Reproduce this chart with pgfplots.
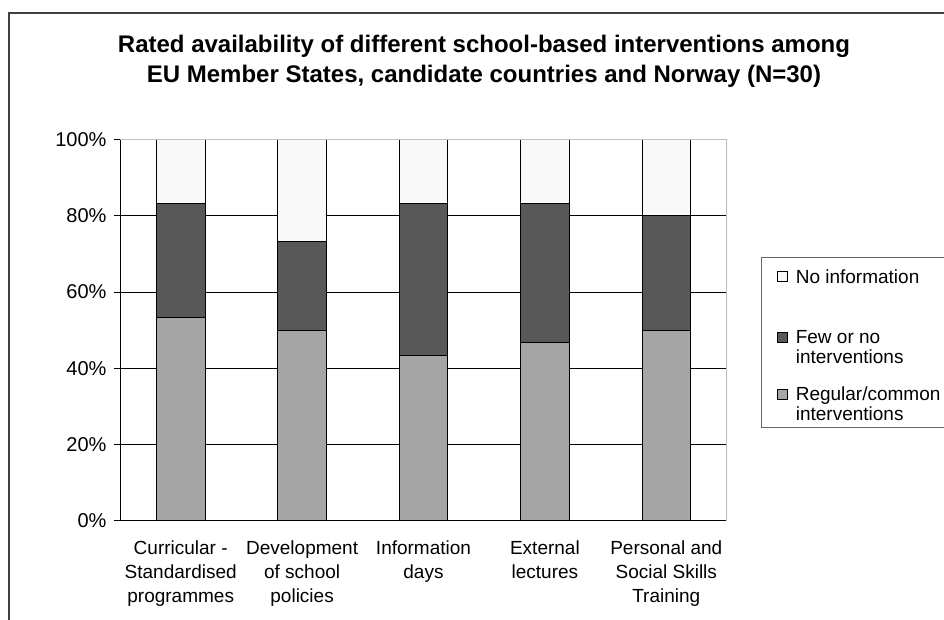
\documentclass[border=0pt]{standalone}
\usepackage{pgfplots}
\pgfplotsset{compat=1.18}
\usepackage{fontspec}
\setmainfont{Liberation Sans}

\definecolor{regular}{HTML}{A5A5A5}
\definecolor{fewno}{HTML}{585858}
\definecolor{noinfo}{HTML}{F9F9F9}

% shares (in %) of the 30 countries per intervention type
\pgfplotstableread{
x regular few noinfo
0 53.33 30.00 16.67
1 50.00 23.33 26.67
2 43.33 40.00 16.67
3 46.67 36.67 16.67
4 50.00 30.00 20.00
}\availability

\begin{document}
\begin{tikzpicture}
\useasboundingbox (0pt,0pt) rectangle (944pt,619pt);
\clip (0pt,0pt) rectangle (944pt,619pt);
% chart frame
\draw[line width=1.4pt, black!75] (9pt,-20pt) -- (9pt,606pt) -- (970pt,606pt);
% title
\node[font=\fontsize{24}{30}\selectfont\bfseries, align=center, anchor=base]
  at (484pt,536pt) {Rated availability of different school-based interventions among\\
  EU Member States, candidate countries and Norway (N=30)};

\begin{axis}[
  at={(120pt,98.3pt)}, anchor=south west,
  width=607pt, height=381pt, scale only axis,
  ybar stacked, bar width=48.6pt,
  xmin=-0.5, xmax=4.5, ymin=0, ymax=100,
  axis x line*=bottom, axis y line*=left,
  axis line style={black, line width=0.9pt, -},
  xtick={0,1,2,3,4},
  xticklabels={{Curricular -\\Standardised\\programmes},
               {Development\\of school\\policies},
               {Information\\days},
               {External\\lectures},
               {Personal and\\Social Skills\\Training}},
  x tick style={draw=none},
  extra x ticks={-0.5,0.5,1.5,2.5,3.5,4.5},
  extra x tick labels={},
  extra x tick style={major tick length=6pt, tick align=outside,
      tick style={black, line width=0.9pt}, grid=none},
  ytick={0,20,40,60,80,100},
  yticklabels={0\%,20\%,40\%,60\%,80\%,100\%},
  y tick style={black, line width=0.9pt},
  major tick length=6pt, tick align=outside,
  ymajorgrids, major grid style={black, line width=0.9pt},
  /pgf/number format/assume math mode=true,
  ticklabel style={font=\fontsize{19}{24}\selectfont},
  xticklabel style={align=center, yshift=-10pt},
  yticklabel style={font=\fontsize{20}{24}\selectfont, xshift=-4pt},
  legend style={
    at={(1.056,0.692)}, anchor=north west,
    draw=black!60, line width=0.8pt,
    font=\fontsize{19}{20}\selectfont,
    inner xsep=16pt, inner ysep=3pt,
    row sep=0pt,
    nodes={inner sep=0pt},
  },
  legend cell align=left,
  legend image code/.code={
    \path[draw=none] (0pt,0pt) (18pt,0pt);
    \draw[#1, line width=0.8pt] (0pt,2pt) rectangle (10pt,12pt);},
  reverse legend,
  every axis plot/.append style={draw=black, line width=1pt},
]
% light grey border on the top and right of the plot area
\draw[black!25, line width=1.2pt] (rel axis cs:0,1) -- (rel axis cs:1,1) -- (rel axis cs:1,0);
\addplot[fill=regular] table[x=x, y=regular] {\availability};
\addlegendentry[anchor=base west, text height=19.5pt, text depth=23.5pt]
  {\parbox[t]{175pt}{Regular/common\\interventions}}
\addplot[fill=fewno] table[x=x, y=few] {\availability};
\addlegendentry[anchor=base west, text height=33.5pt, text depth=37.5pt]
  {\parbox[t]{175pt}{Few or no\\interventions}}
\addplot[fill=noinfo] table[x=x, y=noinfo] {\availability};
\addlegendentry[anchor=base west, text height=23pt, text depth=27pt]
  {No information}
\end{axis}
\end{tikzpicture}
\end{document}
